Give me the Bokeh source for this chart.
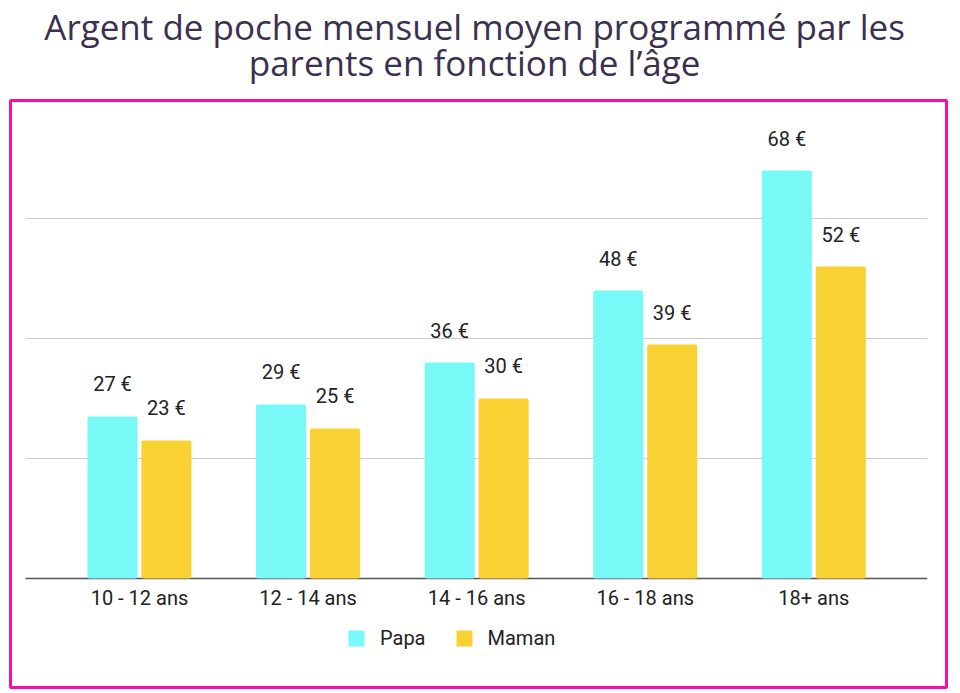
from bokeh.plotting import figure
from bokeh.models import ColumnDataSource, Legend, LegendItem, Range1d
from bokeh.layouts import column
from bokeh.embed import file_html
from bokeh.resources import INLINE
from bokeh.core.properties import value
from bokeh.transform import dodge

categories = ["10 - 12 ans", "12 - 14 ans", "14 - 16 ans", "16 - 18 ans", "18+ ans"]
papa = [27, 29, 36, 48, 68]
maman = [23, 25, 30, 39, 52]
series = ["Papa", "Maman"]
grid_values = [20, 40, 60]
title_lines = ["Argent de poche mensuel moyen programmé par les",
               "parents en fonction de l’âge"]

CYAN = "#78f8f7"
YELLOW = "#f8d232"
PINK = "#fb0ca7"
TXT = "#222222"
FONT = "Roboto"

W, H = 960, 693
TH = 98  # height of the title strip

# ---------- title strip ----------
t = figure(width=W, height=TH, output_backend="svg", toolbar_location=None,
           x_range=Range1d(0, W), y_range=Range1d(TH, 0),
           x_axis_location=None, y_axis_location=None,
           min_border_left=0, min_border_right=0, min_border_top=0, min_border_bottom=0)
t.grid.visible = False
t.outline_line_color = None
t.background_fill_color = "white"
t.border_fill_color = "white"
t.text(x=[476, 476], y=[26, 62], text=title_lines, text_align="center",
       text_baseline="alphabetic", text_font=value("Open Sans"), text_font_size="35px",
       text_color="#3a3050")

# ---------- chart ----------
ML, MR, MT, MB = 10, 14, 2, 6
n = len(categories)
xs = list(range(n))
src = ColumnDataSource(dict(
    x=xs, papa=papa, maman=maman, cat=categories, zero=[0] * n,
    papa_lbl=[f"{v} €" for v in papa], maman_lbl=[f"{v} €" for v in maman],
))

p = figure(width=W, height=H - TH, output_backend="svg", toolbar_location=None,
           x_range=(-0.765, n - 1 + 0.787), y_range=(-18.17, 79.67),
           x_axis_location=None, y_axis_location=None,
           min_border_left=ML, min_border_right=MR, min_border_top=MT, min_border_bottom=MB)
p.grid.visible = False
p.outline_line_color = PINK
p.outline_line_width = 3
p.background_fill_color = "white"
p.border_fill_color = "white"

# grid lines and baseline
gx0 = [-0.676] * len(grid_values)
gx1 = [n - 1 + 0.673] * len(grid_values)
p.segment(x0=gx0, x1=gx1, y0=grid_values, y1=grid_values, line_color="#cccccc", line_width=1)
p.segment(x0=[-0.676], x1=[n - 1 + 0.673], y0=[0], y1=[0], line_color="#555555", line_width=1.5)

bw = 0.297
r1 = p.vbar(x=dodge("x", -0.16), top="papa", width=bw, source=src, fill_color=CYAN,
            line_color=None, border_radius=2)
r2 = p.vbar(x=dodge("x", 0.16), top="maman", width=bw, source=src, fill_color=YELLOW,
            line_color=None, border_radius=2)

p.text(x=dodge("x", -0.16), y="papa", text="papa_lbl", source=src, y_offset=-32,
       text_align="center", text_baseline="middle", text_font=value(FONT),
       text_font_size="20px", text_color=TXT)
p.text(x=dodge("x", 0.16), y="maman", text="maman_lbl", source=src, y_offset=-32,
       text_align="center", text_baseline="middle", text_font=value(FONT),
       text_font_size="20px", text_color=TXT)

p.text(x="x", y="zero", text="cat", source=src, y_offset=20,
       text_align="center", text_baseline="middle", text_font=value(FONT),
       text_font_size="20px", text_color=TXT)

legend = Legend(items=[LegendItem(label=series[0], renderers=[r1]),
                       LegendItem(label=series[1], renderers=[r2])],
                orientation="horizontal", location=(336, 37),
                glyph_width=20, glyph_height=20, label_standoff=14, spacing=28,
                padding=0, margin=0, border_line_alpha=0, background_fill_alpha=0,
                label_text_font_size="20px", label_text_font=FONT, label_text_color=TXT)
p.add_layout(legend)

layout = column(t, p, spacing=0)
open("out.html", "w").write(file_html(layout, INLINE))
